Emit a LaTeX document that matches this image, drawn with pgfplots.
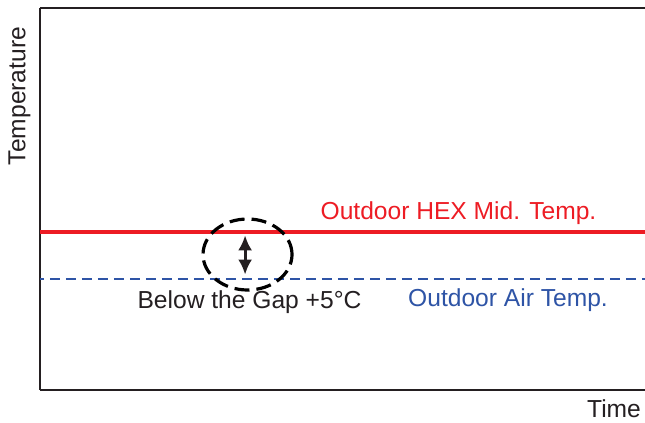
\documentclass[border=0pt]{standalone}
\usepackage{pgfplots}
\pgfplotsset{compat=1.18}
\usepackage{fontspec}
\setmainfont{Liberation Sans}
\usetikzlibrary{arrows.meta}
\definecolor{hexred}{rgb}{0.93,0.11,0.14}
\definecolor{airblue}{rgb}{0.18,0.33,0.65}
\definecolor{axisgray}{rgb}{0.14,0.12,0.13}
\tikzset{lab/.style={font=\fontsize{12.3}{14}\selectfont}}
\begin{document}
\begin{tikzpicture}
\begin{axis}[
  width=302.5pt, height=191pt,
  scale only axis,
  xmin=0, xmax=10, ymin=0, ymax=10,
  axis x line=box, axis y line*=left,
  axis line style={axisgray, line width=1pt},
  xtick=\empty, ytick=\empty,
  clip=false,
]
\addplot[hexred, line width=2pt] coordinates {(0,4.136) (10,4.136)};
\addplot[airblue, line width=1.2pt, dash pattern=on 5pt off 3pt, dash phase=3pt] coordinates {(0,2.906) (10,2.906)};
\draw[black, line width=1.6pt, dash pattern=on 7.5pt off 3.5pt] (axis cs:3.43,3.547) ellipse [x radius=22.25pt, y radius=17.75pt];
\draw[axisgray, line width=1.5pt, {Latex[length=7.5pt,width=7pt]}-{Latex[length=7.5pt,width=7pt]}] (axis cs:3.39,4.05) -- (axis cs:3.39,3.02);
\node[lab, hexred] at (axis cs:6.917,4.63) {Outdoor HEX Mid. Temp.};
\node[lab, airblue] at (axis cs:7.736,2.36) {Outdoor Air Temp.};
\node[lab, axisgray] at (axis cs:3.463,2.31) {Below the Gap +5°C};
\node[lab, axisgray] at (axis cs:9.488,-0.5) {Time};
\node[lab, axisgray, rotate=90] at (axis cs:-0.34,7.696) {Temperature};
\end{axis}
\pgfresetboundingbox
\path (-20pt,-16.5pt) rectangle (302.5pt,195pt);
\end{tikzpicture}
\end{document}
